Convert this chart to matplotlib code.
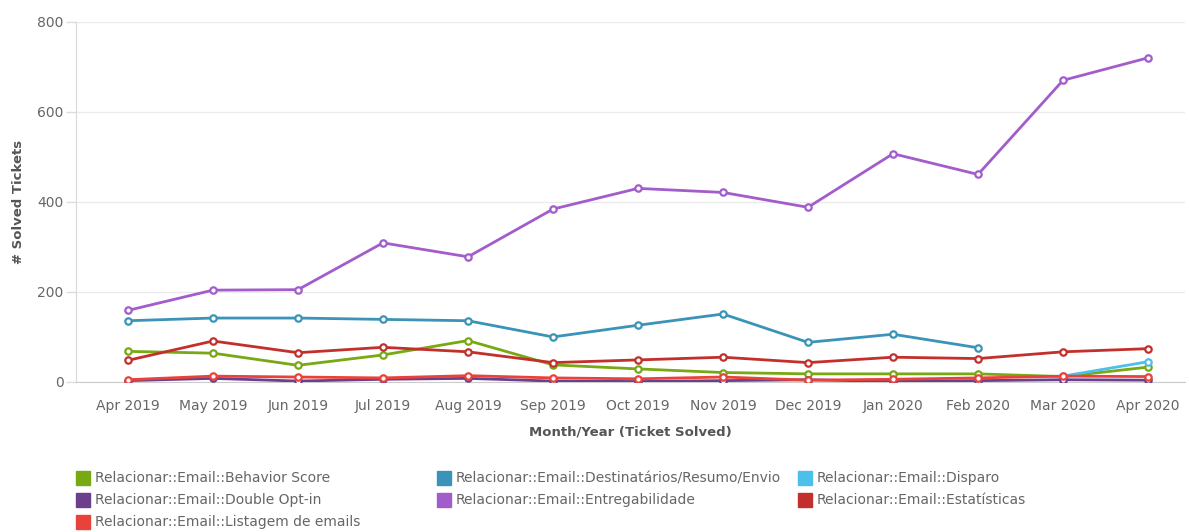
import numpy as np
import matplotlib

matplotlib.use("Agg")
import matplotlib.pyplot as plt  # noqa: E402
from matplotlib.patches import Rectangle  # noqa: E402

nan = np.nan

months = ["Apr 2019", "May 2019", "Jun 2019", "Jul 2019", "Aug 2019", "Sep 2019",
          "Oct 2019", "Nov 2019", "Dec 2019", "Jan 2020", "Feb 2020", "Mar 2020", "Apr 2020"]

behavior_score = [68, 64, 37, 60, 92, 38, 29, 21, 18, 18, 18, 12, 33]
destinatarios = [136, 142, 142, 139, 136, 100, 126, 151, 88, 106, 76, nan, nan]
disparo = [nan, nan, nan, nan, nan, nan, nan, nan, nan, nan, nan, 13, 45]
double_optin = [3, 8, 2, 6, 8, 2, 1, 3, 5, 1, 3, 5, 4]
entregabilidade = [159, 204, 205, 309, 278, 384, 430, 421, 388, 507, 461, 670, 720]
estatisticas = [48, 91, 65, 77, 67, 43, 49, 55, 43, 55, 52, 67, 74]
listagem = [5, 13, 11, 9, 14, 9, 7, 11, 4, 6, 9, 13, 12]

series_names = [
    "Relacionar::Email::Behavior Score",
    "Relacionar::Email::Destinatários/Resumo/Envio",
    "Relacionar::Email::Disparo",
    "Relacionar::Email::Double Opt-in",
    "Relacionar::Email::Entregabilidade",
    "Relacionar::Email::Estatísticas",
    "Relacionar::Email::Listagem de emails",
]
series_values = [behavior_score, destinatarios, disparo, double_optin,
                 entregabilidade, estatisticas, listagem]
series_colors = ["#78a814", "#3a93b8", "#4cbfea", "#6b3f8c", "#a25ccb", "#c32f2b", "#e8423a"]

fig = plt.figure(figsize=(11.89, 5.32), dpi=100)
ax = fig.add_axes([0.064, 0.282, 0.933, 0.677])

x = np.arange(len(months))
# draw small series first so the big ones sit on top
draw_order = [3, 6, 2, 0, 5, 1, 4]
for i in draw_order:
    ax.plot(x, series_values[i], color=series_colors[i], lw=2, marker="o", ms=4.6,
            mfc="white", mec=series_colors[i], mew=1.6, zorder=3 + i * 0.1)

ax.set_xlim(-0.61, 12.44)
ax.set_ylim(0, 800)
ax.set_yticks([0, 200, 400, 600, 800])
ax.set_xticks(x)
ax.set_xticklabels(months)
ax.grid(axis="y", color="#ebebeb", lw=1)
ax.set_axisbelow(True)
for side in ("top", "right"):
    ax.spines[side].set_visible(False)
ax.spines["left"].set_color("#d8d8d8")
ax.spines["bottom"].set_color("#cccccc")
ax.tick_params(axis="y", colors="#666666", labelsize=10, length=7, width=1, color="#dddddd", pad=2)
ax.tick_params(axis="x", colors="#666666", labelsize=10, length=0, pad=12)

ax.set_ylabel("# Solved Tickets", fontsize=9.5, fontweight="bold", color="#555555", labelpad=9)
ax.set_xlabel("Month/Year (Ticket Solved)", fontsize=9.5, fontweight="bold", color="#555555", labelpad=9)

# legend laid out as three fixed-width columns
col_x = [76, 437, 798]
row_y = [478, 500, 522]
W, H = 1189, 532
for k, (name, col) in enumerate(zip(series_names, series_colors)):
    cx = col_x[k % 3]
    cy = row_y[k // 3]
    fig.patches.append(Rectangle(((cx) / W, 1 - (cy + 7) / H), 14 / W, 14 / H,
                                 transform=fig.transFigure, color=col, figure=fig))
    fig.text((cx + 19) / W, 1 - cy / H, name, fontsize=10, color="#666666",
             va="center", ha="left")

fig.savefig("out.png", dpi=100, facecolor="white")
